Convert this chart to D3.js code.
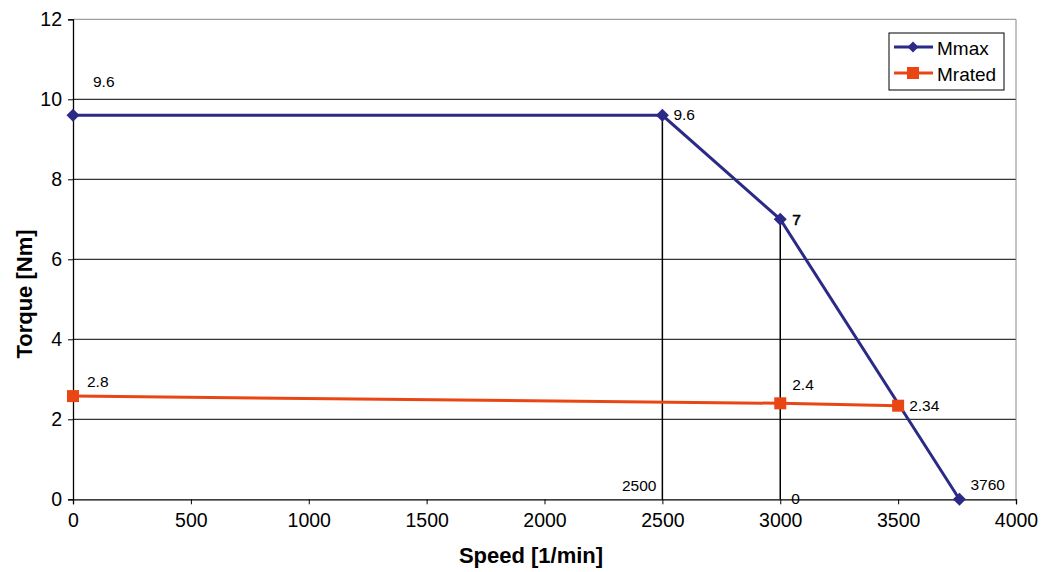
<!DOCTYPE html>
<html><head><meta charset="utf-8">
<script src="https://cdn.jsdelivr.net/npm/d3@7"></script>
<style>body{margin:0;background:#fff;font-family:"Liberation Sans",Arial,sans-serif}</style>
</head><body><svg id="c" width="1043" height="572"></svg>
<script>
const xTicks=[0,500,1000,1500,2000,2500,3000,3500,4000];
const yTicks=[0,2,4,6,8,10,12];
const mmaxSpeed=[0,2500,3000,3760];
const mmaxTorque=[9.6,9.6,7,0];
const mmaxLabels=["9.6","9.6","7","3760"];
const mratedSpeed=[0,3000,3500];
const mratedTorque=[2.58,2.4,2.34];
const mratedLabels=["2.8","2.4","2.34"];
const dropSpeed=[2500,3000];
const dropTorque=[9.6,7];
const dropLabels=["2500","0"];

const svg=d3.select("#c");
const x=d3.scaleLinear().domain([0,4000]).range([73,1016]);
const y=d3.scaleLinear().domain([0,12]).range([499.3,19.3]);
const navy="#2b2a86", orange="#ea4614";
const FF="Liberation Sans, Arial, sans-serif";

// grid
svg.append("g").selectAll("line").data(yTicks.filter(d=>d>0&&d<12)).join("line")
 .attr("x1",x(0)).attr("x2",x(4000)).attr("y1",d=>y(d)).attr("y2",d=>y(d))
 .attr("stroke","#000").attr("stroke-width",1);
// frame top/right gray
svg.append("line").attr("x1",x(0)).attr("x2",x(4000)).attr("y1",y(12)).attr("y2",y(12)).attr("stroke","#888");
svg.append("line").attr("x1",x(4000)).attr("x2",x(4000)).attr("y1",y(12)).attr("y2",y(0)).attr("stroke","#888");

// axes
const xa=svg.append("g").attr("transform",`translate(0,${y(0)})`)
 .call(d3.axisBottom(x).tickValues(xTicks).tickSize(5).tickPadding(9).tickFormat(d3.format("d")));
const ya=svg.append("g").attr("transform",`translate(${x(0)},0)`)
 .call(d3.axisLeft(y).tickValues(yTicks).tickSize(5).tickPadding(6).tickFormat(d3.format("d")));
[xa,ya].forEach(a=>{a.select(".domain").attr("stroke","#000").attr("stroke-width",1.3);
 a.selectAll(".tick line").attr("stroke","#000");
 a.selectAll("text").attr("font-size",19.5).attr("font-family",FF).attr("fill","#000");});

// drop lines
svg.append("g").selectAll("line").data(dropSpeed).join("line")
 .attr("x1",d=>x(d)).attr("x2",d=>x(d)).attr("y1",(d,i)=>y(dropTorque[i])).attr("y2",y(0))
 .attr("stroke","#000").attr("stroke-width",1.5);

// lines
const mmax=mmaxSpeed.map((s,i)=>({s,t:mmaxTorque[i],l:mmaxLabels[i]}));
const mrated=mratedSpeed.map((s,i)=>({s,t:mratedTorque[i],l:mratedLabels[i]}));
const line=d3.line().x(d=>x(d.s)).y(d=>y(d.t));
svg.append("path").datum(mrated).attr("d",line).attr("fill","none").attr("stroke",orange).attr("stroke-width",3);
svg.append("path").datum(mmax).attr("d",line).attr("fill","none").attr("stroke",navy).attr("stroke-width",3);
svg.append("g").selectAll("path").data(mmax).join("path")
 .attr("d",d3.symbol(d3.symbolSquare,85)).attr("fill",navy)
 .attr("transform",d=>`translate(${x(d.s)},${y(d.t)}) rotate(45)`);
svg.append("g").selectAll("rect").data(mrated).join("rect")
 .attr("x",d=>x(d.s)-6).attr("y",d=>y(d.t)-6).attr("width",12).attr("height",12).attr("fill",orange);

// data labels
const lblOff={mmax:[[20,-28],[11,5],[12,6],[11,-9]],mrated:[[14,-9.5],[12,-13],[11,5]]};
function labels(data,offs){
 svg.append("g").selectAll("text").data(data).join("text")
  .attr("x",(d,i)=>x(d.s)+offs[i][0]).attr("y",(d,i)=>y(d.t)+offs[i][1])
  .attr("font-size",15.5).attr("fill","#000")
  .attr("stroke",d=>d.l==="7"?"#000":"none").attr("stroke-width",0.6)
  .text(d=>d.l);
}
labels(mmax,lblOff.mmax);
labels(mrated,lblOff.mrated);
svg.append("g").selectAll("text").data(dropSpeed).join("text")
 .attr("x",(d,i)=>i===0?x(d)-6:x(d)+11).attr("y",(d,i)=>i===0?y(0)-8:y(0)+5)
 .attr("text-anchor",(d,i)=>i===0?"end":"start")
 .attr("font-size",15.5).text((d,i)=>dropLabels[i]);

// axis titles
svg.append("text").attr("x",531).attr("y",563).attr("text-anchor","middle")
 .attr("font-size",22).attr("font-weight","bold").text("Speed [1/min]");
svg.append("text").attr("transform",`translate(32,294) rotate(-90)`).attr("text-anchor","middle")
 .attr("font-size",22).attr("font-weight","bold").text("Torque [Nm]");

// legend
const lg=svg.append("g").attr("transform","translate(889,33)");
lg.append("rect").attr("width",115).attr("height",57).attr("fill","#fff").attr("stroke","#000").attr("stroke-width",1);
const leg=[{n:"Mmax",c:navy,m:"d"},{n:"Mrated",c:orange,m:"s"}];
leg.forEach((e,i)=>{const yy=14+i*26;
 lg.append("line").attr("x1",5).attr("x2",44).attr("y1",yy).attr("y2",yy).attr("stroke",e.c).attr("stroke-width",3);
 if(e.m==="d") lg.append("path").attr("d",d3.symbol(d3.symbolSquare,60)).attr("fill",e.c).attr("transform",`translate(24,${yy}) rotate(45)`);
 else lg.append("rect").attr("x",18).attr("y",yy-6).attr("width",12).attr("height",12).attr("fill",e.c);
 lg.append("text").attr("x",48).attr("y",yy+8).attr("font-size",19).text(e.n);
});
</script></body></html>
